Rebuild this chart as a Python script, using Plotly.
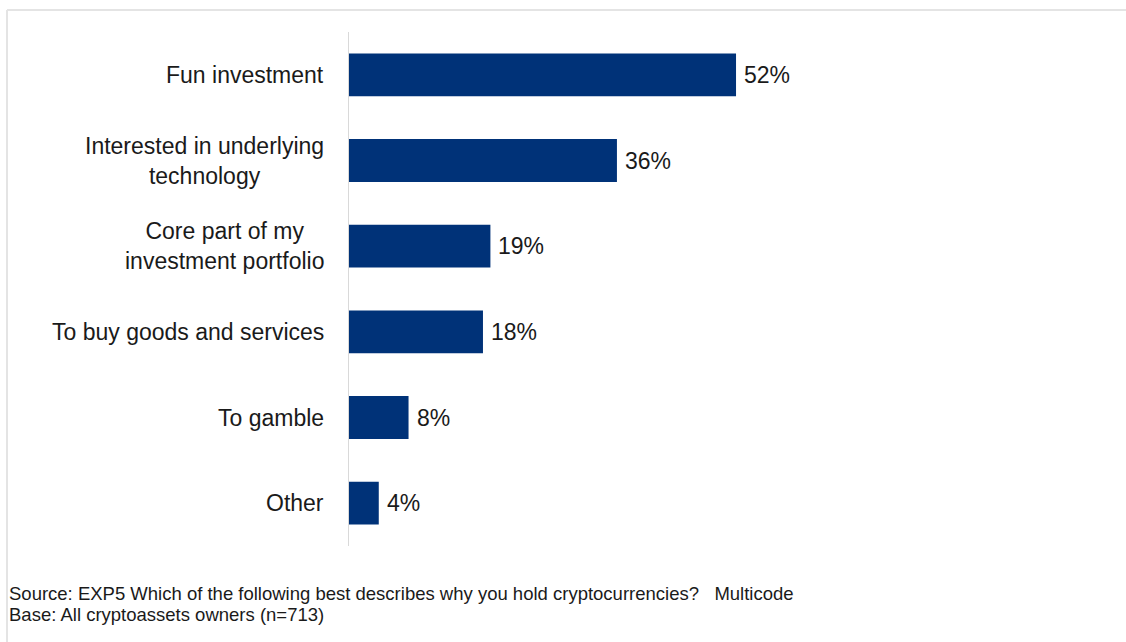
import plotly.graph_objects as go

# Reasons for holding cryptocurrencies (share of owners, %)
categories = [
    "Fun investment",
    "Interested in underlying<br>technology",
    "Core part of my<br>investment portfolio",
    "To buy goods and services",
    "To gamble",
    "Other",
]
shares = [52, 36, 19, 18, 8, 4]
value_labels = [f"{v}%" for v in shares]

source_lines = [
    "Source: EXP5 Which of the following best describes why you hold cryptocurrencies?   Multicode",
    "Base: All cryptoassets owners (n=713)",
]

W, H = 1126, 642
ML, MR, MT, MB = 349, 256, 32, 96
plot_w = W - ML - MR
plot_h = H - MT - MB


def px_x(p):
    return (p - ML) / plot_w


def px_y(p):
    return (H - MB - p) / plot_h


bar_color = "#003278"
text_color = "#1a1a1a"
font_family = "Arial, 'Liberation Sans', sans-serif"

fig = go.Figure(
    go.Bar(
        x=shares,
        y=categories,
        orientation="h",
        marker=dict(color=bar_color, line=dict(width=0)),
        width=0.5,
        hoverinfo="skip",
    )
)

annotations = []

# Category labels, centred line-by-line and right-anchored next to the axis
for cat in categories:
    annotations.append(dict(
        text=cat, xref="paper", yref="y", x=px_x(326), y=cat,
        xanchor="right", yanchor="middle", align="center", showarrow=False,
        font=dict(size=23, color=text_color, family=font_family),
    ))

# Value labels just past the end of each bar
for cat, v, lab in zip(categories, shares, value_labels):
    annotations.append(dict(
        text=lab, xref="x", yref="y", x=v, y=cat, xshift=6,
        xanchor="left", yanchor="middle", showarrow=False,
        font=dict(size=23, color=text_color, family=font_family),
    ))

# Source / base notes
for i, line in enumerate(source_lines):
    annotations.append(dict(
        text=line, xref="paper", yref="paper", x=px_x(7), y=px_y(593 + 21 * i),
        xanchor="left", yanchor="middle", align="left", showarrow=False,
        font=dict(size=18.5, color=text_color, family=font_family),
    ))

fig.update_layout(
    width=W,
    height=H,
    margin=dict(l=ML, r=MR, t=MT, b=MB),
    paper_bgcolor="white",
    plot_bgcolor="white",
    showlegend=False,
    font=dict(family=font_family, color=text_color),
    xaxis=dict(
        range=[0, 70],
        showgrid=False,
        zeroline=False,
        showticklabels=False,
        showline=False,
        fixedrange=True,
    ),
    yaxis=dict(
        autorange="reversed",
        showgrid=False,
        zeroline=False,
        showline=True,
        linecolor="#d9d9d9",
        linewidth=1,
        ticks="",
        showticklabels=False,
        fixedrange=True,
    ),
    annotations=annotations,
    shapes=[
        # light frame around the slide area
        dict(type="line", xref="paper", yref="paper",
             x0=px_x(7), x1=px_x(W + 5), y0=px_y(10), y1=px_y(10),
             line=dict(color="#e4e4e4", width=2)),
        dict(type="line", xref="paper", yref="paper",
             x0=px_x(7), x1=px_x(7), y0=px_y(10), y1=px_y(H + 5),
             line=dict(color="#e4e4e4", width=2)),
    ],
)

fig.write_html("out.html")
